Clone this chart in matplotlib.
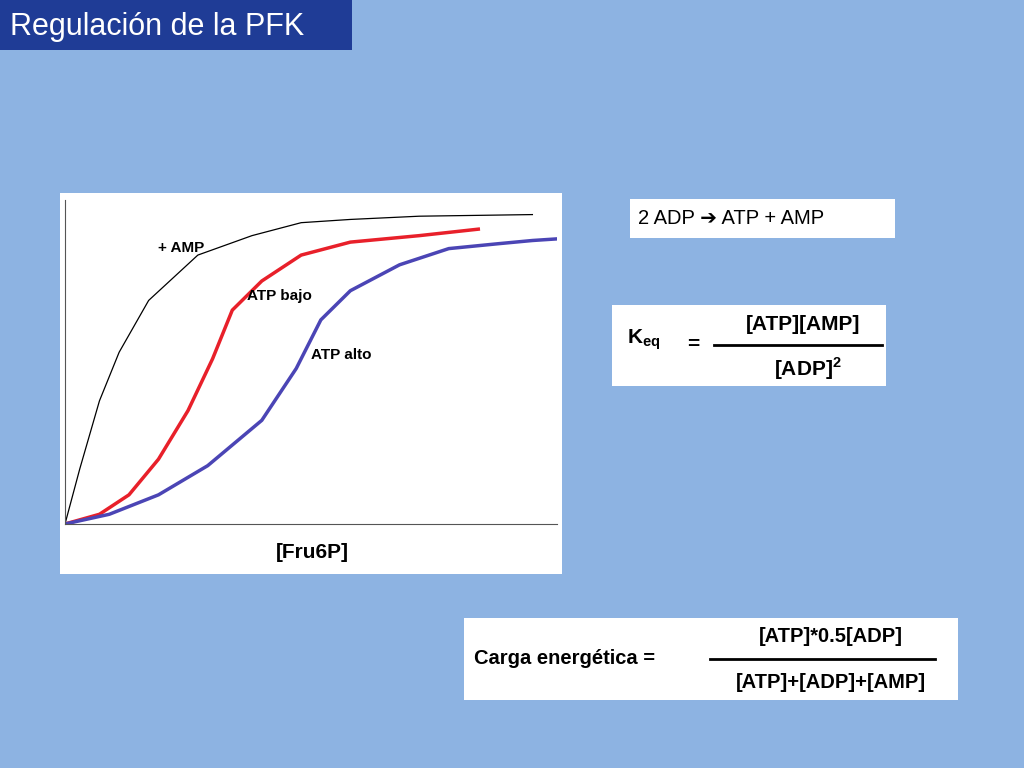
import matplotlib.pyplot as plt
from matplotlib.patches import Rectangle

W, H = 1024, 768

# curve data ([Fru6P] vs velocity, arbitrary units 0-100)
amp_x = [0, 3, 7, 11, 17, 27, 38, 48, 58, 72, 95]
amp_y = [0, 17, 38, 53, 69, 83, 89, 93, 94, 95, 95.5]
bajo_x = [0, 7, 13, 19, 25, 30, 34, 40, 48, 58, 72, 84]
bajo_y = [0, 3, 9, 20, 35, 51, 66, 75, 83, 87, 89, 91]
alto_x = [0, 9, 19, 29, 40, 47, 52, 58, 68, 78, 88, 95, 100]
alto_y = [0, 3, 9, 18, 32, 48, 63, 72, 80, 85, 86.5, 87.5, 88]

BG = "#8DB3E2"

fig = plt.figure(figsize=(W / 100, H / 100), dpi=100, facecolor=BG)


def px(x, y):
    return x / W, 1 - y / H


def box(x0, y0, x1, y1, color="white"):
    fig.patches.append(Rectangle(px(x0, y1), (x1 - x0) / W, (y1 - y0) / H,
                                 transform=fig.transFigure, facecolor=color,
                                 edgecolor="none", zorder=-5))


# title
box(0, 0, 352, 50, "#1F3C96")
fig.text(*px(10, 27), "Regulación de la PFK", color="white", fontsize=22,
         ha="left", va="center", family="Liberation Sans")

# chart panel
box(60, 193, 562, 574)
ax = fig.add_axes([65 / W, 1 - 524 / H, (557 - 65) / W, (524 - 200) / H])
ax.set_zorder(2)
ax.patch.set_alpha(0)
ax.plot(amp_x, amp_y, color="black", lw=0.9)
ax.plot(bajo_x, bajo_y, color="#E8202A", lw=2.5)
ax.plot(alto_x, alto_y, color="#4B45B5", lw=2.5)
ax.set_xlim(0, 100)
ax.set_ylim(0, 100)
ax.set_xticks([])
ax.set_yticks([])
for s in ("top", "right"):
    ax.spines[s].set_visible(False)
for s in ("left", "bottom"):
    ax.spines[s].set_color("#555555")
    ax.spines[s].set_linewidth(0.8)
ax.text(19, 84, "+ AMP", fontsize=11, fontweight="bold", family="Liberation Sans")
ax.text(37, 69, "ATP bajo", fontsize=11, fontweight="bold", family="Liberation Sans")
ax.text(50, 51, "ATP alto", fontsize=11, fontweight="bold", family="Liberation Sans")
fig.text(*px(312, 553), "[Fru6P]", fontsize=15, fontweight="bold",
         ha="center", va="center", family="Liberation Sans")

# reaction box
box(630, 199, 895, 238)
fig.text(*px(638, 219), "2 ADP \u2794 ATP + AMP", fontsize=14.5, va="center",
         family=["Liberation Sans", "DejaVu Sans"])

# Keq box
box(612, 305, 886, 386)
fig.text(*px(627, 340), r"K$_{\mathregular{eq}}$", fontsize=15, va="center",
         family="Liberation Sans", fontweight="bold")
fig.text(*px(693, 344), "=", fontsize=15, va="center", ha="center",
         family="Liberation Sans", fontweight="bold")
fig.lines.append(plt.Line2D([714 / W, 882 / W], [1 - 345 / H] * 2,
                            transform=fig.transFigure, color="black", lw=2))
fig.text(*px(803, 325), "[ATP][AMP]", fontsize=15, va="center", ha="center",
         family="Liberation Sans", fontweight="bold")
fig.text(*px(808, 369), r"[ADP]$^{\mathregular{2}}$", fontsize=15, va="center",
         ha="center", family="Liberation Sans", fontweight="bold")

# energy charge box
box(464, 618, 958, 700)
fig.text(*px(474, 659), "Carga energética =", fontsize=14.5, va="center",
         family="Liberation Sans", fontweight="bold")
fig.lines.append(plt.Line2D([710 / W, 935 / W], [1 - 659 / H] * 2,
                            transform=fig.transFigure, color="black", lw=2))
fig.text(*px(831, 637), "[ATP]*0.5[ADP]", fontsize=14.5, va="center",
         ha="center", family="Liberation Sans", fontweight="bold")
fig.text(*px(831, 683), "[ATP]+[ADP]+[AMP]", fontsize=14.5, va="center",
         ha="center", family="Liberation Sans", fontweight="bold")

fig.savefig("out.png", dpi=100, facecolor=BG)
